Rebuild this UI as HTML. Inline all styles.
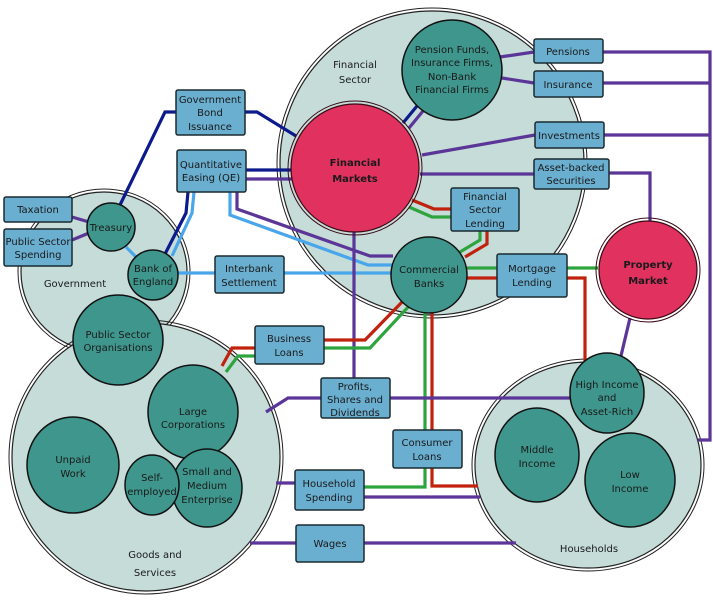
<!DOCTYPE html>
<html><head><meta charset="utf-8"><style>
body{margin:0;background:#fff}
svg{display:block}
text{font-family:"DejaVu Sans","Liberation Sans",sans-serif;font-size:10px;fill:#1a1a1a;text-anchor:middle}
.b{fill:#6aaed0;stroke:#1b2a30;stroke-width:1.5}
.t{fill:#3f968c;stroke:#111;stroke-width:1.5}
.l{fill:#c5dcd9;stroke:#222;stroke-width:1.2}
.p{fill:#e0315f;stroke:#3a0a15;stroke-width:1.2}
.ln{fill:none;stroke-width:3.2}
.nv{stroke:#0c1a8c}.pu{stroke:#5b3597}.lb{stroke:#4aa6ea}.rd{stroke:#c0220e}.gr{stroke:#2ea43e}
</style></head><body>
<svg width="713" height="602" viewBox="0 0 713 602">
<!-- large circles (double ring) -->
<ellipse cx="432" cy="163" rx="155" ry="155" fill="none" stroke="#222" stroke-width="1"/>
<ellipse cx="432" cy="163" rx="152" ry="152" class="l"/>
<ellipse cx="104" cy="272" rx="86" ry="83" fill="none" stroke="#222" stroke-width="1"/>
<ellipse cx="104" cy="272" rx="83" ry="80" class="l"/>
<ellipse cx="146" cy="457" rx="137" ry="137" fill="none" stroke="#222" stroke-width="1"/>
<ellipse cx="146" cy="457" rx="134" ry="134" class="l"/>
<ellipse cx="588" cy="465" rx="116" ry="106" fill="none" stroke="#222" stroke-width="1"/>
<ellipse cx="588" cy="465" rx="113" ry="103" class="l"/>

<!-- connectors -->
<polyline class="ln nv" points="120,205 165,112 176,112"/>
<polyline class="ln nv" points="245,112 257,112 296,136"/>
<polyline class="ln nv" points="246,170 292,170"/>
<polyline class="ln pu" points="246,179 292,179"/>
<polyline class="ln nv" points="188,192 186,213 165,254"/>
<polyline class="ln lb" points="194,192 192,213 172,256"/>
<polyline class="ln lb" points="230,192 230,215 368,265 393,265"/>
<polyline class="ln pu" points="237,192 237,209 370,256 393,256"/>
<polyline class="ln lb" points="178,273 391,273"/>
<line class="ln lb" x1="126" y1="247" x2="137" y2="258"/>
<line class="ln pu" x1="72" y1="217" x2="89" y2="222"/>
<line class="ln pu" x1="72" y1="240" x2="89" y2="233"/>
<line class="ln pu" x1="354" y1="230" x2="354" y2="378"/>
<line class="ln nv" x1="403" y1="123" x2="417" y2="106"/>
<line class="ln pu" x1="409" y1="128" x2="423" y2="111"/>
<polyline class="ln pu" points="500,57 534,52"/>
<polyline class="ln pu" points="502,78 534,83"/>
<polyline class="ln pu" points="422,155 535,135"/>
<polyline class="ln pu" points="420,174 534,174"/>
<polyline class="ln pu" points="609,173 650,173 650,222"/>
<polyline class="ln pu" points="603,52 710,52 710,440 698,440"/>
<polyline class="ln pu" points="603,83 710,83"/>
<polyline class="ln pu" points="604,135 710,135"/>
<polyline class="ln rd" points="412,200 434,209 451,209"/>
<polyline class="ln gr" points="409,207 432,217 451,217"/>
<polyline class="ln gr" points="480,231 480,240 460,252"/>
<polyline class="ln rd" points="487,231 487,244 465,257"/>
<polyline class="ln gr" points="467,268 598,268"/>
<polyline class="ln rd" points="467,278 585,278 585,362"/>
<line class="ln pu" x1="630" y1="318" x2="620" y2="360"/>
<polyline class="ln rd" points="222,366 232,348 255,348"/>
<polyline class="ln gr" points="226,372 238,356 255,356"/>
<polyline class="ln rd" points="324,340 365,340 404,300"/>
<polyline class="ln gr" points="324,348 370,348 410,305"/>
<polyline class="ln gr" points="425,312 425,487 364,487"/>
<polyline class="ln rd" points="432,312 432,486 478,486"/>
<polyline class="ln pu" points="266,412 288,398 321,398"/>
<polyline class="ln pu" points="390,398 572,398"/>
<polyline class="ln pu" points="276,483 295,483"/>
<polyline class="ln pu" points="364,497 480,497"/>
<polyline class="ln pu" points="250,543 516,543"/>

<!-- inner circles -->
<circle cx="355" cy="168" r="67" fill="none" stroke="#3a0a15" stroke-width="1"/>
<circle cx="355" cy="168" r="64" class="p"/>
<circle cx="648" cy="270" r="52" fill="none" stroke="#3a0a15" stroke-width="1"/>
<circle cx="648" cy="270" r="49" class="p"/>
<circle cx="452" cy="70" r="50" class="t"/>
<circle cx="429" cy="275" r="38" class="t"/>
<circle cx="111" cy="227" r="24" class="t"/>
<circle cx="153" cy="275" r="25" class="t"/>
<circle cx="118" cy="340" r="45" class="t"/>
<ellipse cx="193" cy="412" rx="45" ry="47" class="t"/>
<ellipse cx="73" cy="465" rx="46" ry="48" class="t"/>
<ellipse cx="207" cy="488" rx="35" ry="39" class="t"/>
<ellipse cx="152" cy="485" rx="27" ry="30" class="t"/>
<ellipse cx="607" cy="393" rx="37" ry="40" class="t"/>
<ellipse cx="537" cy="455" rx="42" ry="47" class="t"/>
<ellipse cx="630" cy="480" rx="45" ry="47" class="t"/>

<!-- boxes -->
<rect class="b" x="176" y="90" width="69" height="45" rx="2"/>
<rect class="b" x="177" y="150" width="69" height="42" rx="2"/>
<rect class="b" x="4" y="197" width="68" height="25" rx="2"/>
<rect class="b" x="4" y="229" width="68" height="37" rx="2"/>
<rect class="b" x="215" y="256" width="69" height="37" rx="2"/>
<rect class="b" x="534" y="39" width="69" height="24" rx="2"/>
<rect class="b" x="534" y="71" width="69" height="26" rx="2"/>
<rect class="b" x="535" y="122" width="69" height="26" rx="2"/>
<rect class="b" x="534" y="159" width="75" height="30" rx="2"/>
<rect class="b" x="451" y="188" width="68" height="43" rx="2"/>
<rect class="b" x="497" y="254" width="70" height="43" rx="2"/>
<rect class="b" x="255" y="326" width="69" height="38" rx="2"/>
<rect class="b" x="321" y="378" width="69" height="40" rx="2"/>
<rect class="b" x="393" y="430" width="69" height="38" rx="2"/>
<rect class="b" x="295" y="470" width="69" height="40" rx="2"/>
<rect class="b" x="296" y="525" width="68" height="37" rx="2"/>

<!-- labels -->
<text x="355" y="68" font-size="12">Financial</text><text x="355" y="83" font-size="12">Sector</text>
<text x="355" y="166" font-size="12" font-weight="bold" fill="#2a0a10">Financial</text><text x="355" y="182" font-size="12" font-weight="bold">Markets</text>
<text x="648" y="268" font-size="12" font-weight="bold">Property</text><text x="648" y="284" font-size="12" font-weight="bold">Market</text>
<text x="452" y="53">Pension Funds,</text><text x="452" y="66">Insurance Firms,</text><text x="452" y="80">Non-Bank</text><text x="452" y="93">Financial Firms</text>
<text x="429" y="273">Commercial</text><text x="429" y="287">Banks</text>
<text x="111" y="231">Treasury</text>
<text x="153" y="272">Bank of</text><text x="153" y="285">England</text>
<text x="75" y="287" font-size="12">Government</text>
<text x="118" y="338">Public Sector</text><text x="118" y="351">Organisations</text>
<text x="193" y="415">Large</text><text x="193" y="428">Corporations</text>
<text x="73" y="463">Unpaid</text><text x="73" y="477">Work</text>
<text x="152" y="481">Self-</text><text x="152" y="495">employed</text>
<text x="207" y="475">Small and</text><text x="207" y="489">Medium</text><text x="207" y="503">Enterprise</text>
<text x="155" y="558" font-size="12">Goods and</text><text x="155" y="576" font-size="12">Services</text>
<text x="607" y="388">High Income</text><text x="607" y="401">and</text><text x="607" y="415">Asset-Rich</text>
<text x="537" y="453">Middle</text><text x="537" y="467">Income</text>
<text x="630" y="478">Low</text><text x="630" y="492">Income</text>
<text x="589" y="552" font-size="12">Households</text>
<text x="210" y="103">Government</text><text x="210" y="116">Bond</text><text x="210" y="130">Issuance</text>
<text x="211" y="168">Quantitative</text><text x="211" y="181">Easing (QE)</text>
<text x="38" y="213">Taxation</text>
<text x="38" y="245">Public Sector</text><text x="38" y="258">Spending</text>
<text x="249" y="272">Interbank</text><text x="249" y="286">Settlement</text>
<text x="568" y="55">Pensions</text>
<text x="568" y="88">Insurance</text>
<text x="569" y="139">Investments</text>
<text x="571" y="171">Asset-backed</text><text x="571" y="184">Securities</text>
<text x="485" y="200">Financial</text><text x="485" y="213">Sector</text><text x="485" y="227">Lending</text>
<text x="532" y="272">Mortgage</text><text x="532" y="286">Lending</text>
<text x="289" y="342">Business</text><text x="289" y="356">Loans</text>
<text x="355" y="390">Profits,</text><text x="355" y="403">Shares and</text><text x="355" y="416">Dividends</text>
<text x="427" y="446">Consumer</text><text x="427" y="460">Loans</text>
<text x="329" y="487">Household</text><text x="329" y="501">Spending</text>
<text x="330" y="547">Wages</text>
</svg>
</body></html>
